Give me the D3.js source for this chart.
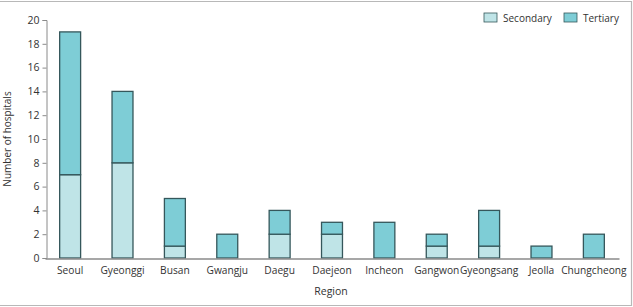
<!DOCTYPE html>
<html lang="en">
<head>
  <meta charset="UTF-8">
  <title>Hospitals by region</title>
  <style>
    body { margin: 0; background: #fff; }
    svg text { font-family: "Open Sans", sans-serif; fill: #333; }
  </style>
</head>
<body>

<svg width="633" height="307"></svg>

<script src="https://d3js.org/d3.v7.min.js"></script>
<script>

// Data
let regions = ["Seoul", "Gyeonggi", "Busan", "Gwangju", "Daegu", "Daejeon", "Incheon", "Gangwon", "Gyeongsang", "Jeolla", "Chungcheong"];
let secondary = [7, 8, 1, 0, 2, 2, 0, 1, 1, 0, 0];
let tertiary = [12, 6, 4, 2, 2, 1, 3, 1, 3, 1, 2];
let yTicks = [0, 2, 4, 6, 8, 10, 12, 14, 16, 18, 20];

let width = 633, height = 307;
let colors = { secondary: "#bfe4e7", tertiary: "#7ecdd6" };
let strokeCol = "#35575b";

let svg = d3.select("svg");

// frame around the figure
svg.append("path")
    .attr("d", "M0,1.5 H631.5 V305.5 H0")
    .attr("fill", "none")
    .attr("stroke", "#b8b8b8")
    .attr("stroke-width", 1.2);

let x = d3.scaleBand()
    .domain(regions)
    .range([45, 619])
    .paddingInner(0.6)
    .paddingOuter(0.28);

let y = d3.scaleLinear()
    .domain([0, 20])
    .range([258, 20]);

// stacked rows
let rows = regions.map((r, i) => ({ region: r, secondary: secondary[i], tertiary: tertiary[i] }));
let stack = d3.stack().keys(["secondary", "tertiary"])(rows);

svg.append("g")
  .selectAll("g")
  .data(stack)
  .enter()
  .append("g")
    .attr("fill", d => colors[d.key])
  .selectAll("rect")
  .data(d => d.filter(p => p[1] > p[0]))
  .enter()
  .append("rect")
    .attr("x", d => x(d.data.region))
    .attr("width", x.bandwidth())
    .attr("y", d => y(d[1]))
    .attr("height", d => y(d[0]) - y(d[1]))
    .attr("stroke", strokeCol)
    .attr("stroke-width", 1.3);

// y axis
let yAxis = svg.append("g")
    .attr("transform", "translate(46.5,0)")
    .call(d3.axisLeft(y).tickValues(yTicks).tickSize(4).tickSizeOuter(4));
yAxis.selectAll("path, line").attr("stroke", "#8a8a8a");
yAxis.selectAll("text").attr("font-size", 10.5).attr("x", -7).style("font-family", "'Open Sans', sans-serif").attr("fill", "#333");

// x axis
let xAxis = svg.append("g")
    .attr("transform", "translate(0,258.5)")
    .call(d3.axisBottom(x).tickSize(0).tickSizeOuter(0));
xAxis.select("path").attr("stroke", "#8a8a8a").attr("stroke-width", 1.5);
xAxis.selectAll("text").attr("font-size", 10.2).attr("dy", "1.2em").style("font-family", "'Open Sans', sans-serif").attr("fill", "#333");

// axis titles
svg.append("text")
    .attr("transform", "translate(11,139) rotate(-90)")
    .attr("text-anchor", "middle")
    .attr("font-size", 10)
    .text("Number of hospitals");

svg.append("text")
    .attr("x", 331)
    .attr("y", 295)
    .attr("text-anchor", "middle")
    .attr("font-size", 10.5)
    .text("Region");

// legend
let legendItems = [
  { key: "secondary", label: "Secondary", x: 484 },
  { key: "tertiary", label: "Tertiary", x: 564 }
];
let legend = svg.append("g")
  .selectAll("g")
  .data(legendItems)
  .enter()
  .append("g")
    .attr("transform", d => "translate(" + d.x + ",13)");
legend.append("rect")
    .attr("width", 13)
    .attr("height", 9)
    .attr("fill", d => colors[d.key])
    .attr("stroke", strokeCol)
    .attr("stroke-width", 0.8);
legend.append("text")
    .attr("x", 19)
    .attr("y", 8.5)
    .attr("font-size", 10)
    .text(d => d.label);

</script>

</body>
</html>
